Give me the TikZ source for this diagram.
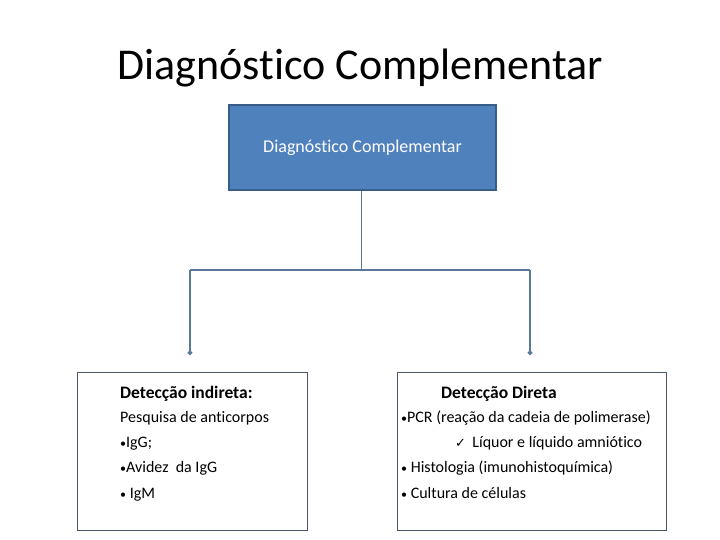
\documentclass[tikz,border=0pt]{standalone}
\usepackage{fontspec}
\setmainfont{Carlito}[Ligatures=NoCommon]
\newfontfamily\symfont{DejaVu Sans}
\usetikzlibrary{arrows.meta}
\definecolor{topfill}{HTML}{4F81BD}
\definecolor{topdraw}{HTML}{385D8A}
\definecolor{linkc}{HTML}{5A7897}
\definecolor{boxdraw}{HTML}{4A5568}
\newcommand{\bul}{{\fontsize{12}{14}\selectfont •}}
\tikzset{
  topbox/.style={draw=topdraw, line width=2.5pt, fill=topfill, minimum width=267pt, minimum height=85pt, text=white, font=\fontsize{18}{21}\selectfont, inner sep=0pt},
  lowbox/.style={draw=boxdraw, line width=0.8pt, fill=white, inner sep=0pt},
  link/.style={draw=linkc, line width=2.4pt, -{Circle[length=4.5pt]}},
  stem/.style={draw=linkc, line width=0.9pt},
  bar/.style={draw=linkc, line width=1.5pt},
  txt/.style={anchor=base west, inner sep=0pt, font=\fontsize{16}{19}\selectfont},
  btxt/.style={txt, font=\fontsize{17.5}{20}\selectfont\bfseries},
}
\begin{document}
\begin{tikzpicture}[x=1pt,y=-1pt]
\useasboundingbox (0,0) rectangle (720,540);
\node[anchor=center, inner sep=0pt, font=\fontsize{44}{52}\selectfont] (title) at (360.5,68) {Diagnóstico Complementar};
\node[topbox] (top) at (362.5,147.5) {Diagnóstico Complementar};
\node[lowbox, minimum width=230pt, minimum height=158pt] (left) at (192,451) {};
\node[lowbox, minimum width=269pt, minimum height=158pt] (right) at (531.5,451) {};
\coordinate (j) at (361,270);
\coordinate (lj) at (190,270);
\coordinate (rj) at (530,270);
\coordinate (le) at (190,355);
\coordinate (re) at (530,355);
\draw[stem] (top.south -| j) -- (j);
\draw[bar] (lj) -- (rj);
\draw[link] (lj) -- (le);
\draw[link] (rj) -- (re);
% left texts
\node[btxt] (l1) at (120,398) {Detecção indireta:};
\node[txt] (l2) at (120,422) {Pesquisa de anticorpos};
\node[txt] (l3) at (120,447) {\bul IgG;};
\node[txt] (l4) at (120,472) {\bul Avidez\ \ da IgG};
\node[txt] (l5) at (120,498) {\bul\ IgM};
% right texts
\node[btxt] (r1) at (441,398) {Detecção Direta};
\node[txt] (r2) at (401,422) {\bul PCR (reação da cadeia de polimerase)};
\node[txt] (r3) at (455,447) {{\symfont\fontsize{13}{15}\selectfont ✓}\ \,Líquor e líquido amniótico};
\node[txt] (r4) at (401,472) {\bul\ Histologia (imunohistoquímica)};
\node[txt] (r5) at (401,498) {\bul\ Cultura de células};
\end{tikzpicture}
\end{document}
